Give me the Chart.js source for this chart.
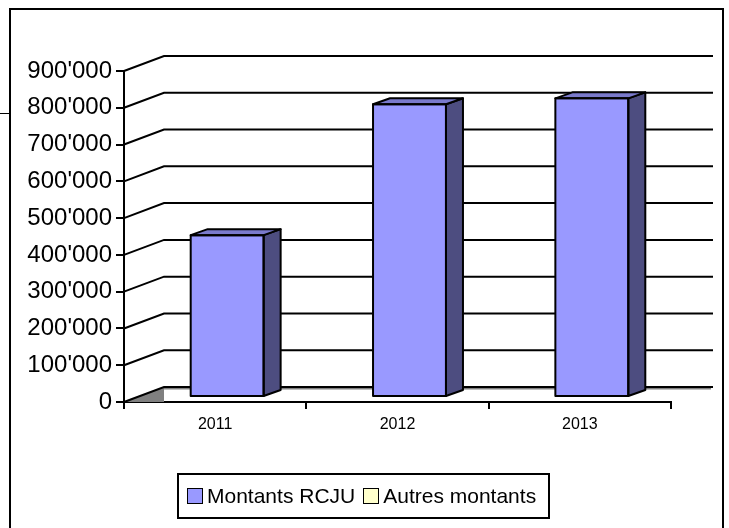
<!DOCTYPE html>
<html>
<head>
<meta charset="utf-8">
<script src="https://cdn.jsdelivr.net/npm/chart.js@4.4.0/dist/chart.umd.min.js"></script>
<style>
  body { margin: 0; background: #fff; font-family: "Liberation Sans", Arial, sans-serif; }
  #wrap { position: absolute; left: 0; top: 0; width: 729px; height: 528px; }
  #frame { position: absolute; left: 9px; top: 8px; width: 711px; height: 540px; border: 2px solid #000; }
  #stub { position: absolute; left: 0; top: 113px; width: 10px; height: 1px; background: #000; }
  #legend { position: absolute; left: 177px; top: 473px; width: 369px; height: 42px; border: 2px solid #000;
            display: flex; align-items: center; font-size: 21px; color: #000; }
  #legend .item { display: flex; align-items: center; margin-left: 8px; }
  #legend .box { width: 14px; height: 14px; border: 1.5px solid #000; margin-right: 4px; }
</style>
</head>
<body>
<div id="frame"></div>
<div id="stub"></div>
<div id="wrap"><canvas id="mycanvas"></canvas></div>
<div id="legend"></div>
<script>
var years = ['2011', '2012', '2013'];
var montantsRCJU = [440000, 796000, 812000];
var autresMontants = [0, 0, 0];
var yTicks = [0, 100000, 200000, 300000, 400000, 500000, 600000, 700000, 800000, 900000];

// depth of the walls and of the bars
var DX = 40, DY = -15;
var OX = 12, OY = -5;
var BX = 17, BY = -6;

function fmt(v) {
  return String(v).replace(/\B(?=(\d{3})+(?!\d))/g, "'");
}

var walls = {
  id: 'walls',
  beforeDatasetsDraw: function(chart) {
    var ctx = chart.ctx, a = chart.chartArea, ys = chart.scales.y;
    ctx.save();
    // floor / left base
    var y0 = ys.getPixelForValue(0);
    ctx.fillStyle = '#808080';
    ctx.beginPath();
    ctx.moveTo(a.left, y0);
    ctx.lineTo(a.left + DX, y0 + DY);
    ctx.lineTo(a.left + DX, y0);
    ctx.closePath();
    ctx.fill();
    ctx.strokeStyle = '#808080';
    ctx.lineWidth = 2;
    ctx.beginPath();
    ctx.moveTo(a.left + DX, y0 + DY + 1.5);
    ctx.lineTo(a.right + DX, y0 + DY + 1.5);
    ctx.stroke();

    ctx.strokeStyle = '#000';
    ctx.lineWidth = 2;
    yTicks.forEach(function(v) {
      var y = ys.getPixelForValue(v);
      ctx.beginPath();
      ctx.moveTo(a.left, y);
      ctx.lineTo(a.left + DX, y + DY);
      ctx.lineTo(a.right + DX + 2, y + DY);
      ctx.stroke();
    });
    ctx.restore();
    // shift the bar fronts into the floor depth
    ctx.save();
    ctx.translate(OX, OY);
  },
  afterDatasetsDraw: function(chart) {
    var ctx = chart.ctx;
    ctx.restore();
    ctx.save();
    ctx.lineWidth = 2;
    ctx.lineJoin = 'round';
    ctx.strokeStyle = '#000';
    chart.data.datasets.forEach(function(ds, di) {
      var meta = chart.getDatasetMeta(di);
      meta.data.forEach(function(el, i) {
        if (!ds.data[i]) return;
        var p = el.getProps(['x', 'y', 'base', 'width'], true);
        var l = p.x - p.width / 2 + OX, r = p.x + p.width / 2 + OX;
        var t = Math.min(p.y, p.base) + OY, b = Math.max(p.y, p.base) + OY;
        // side
        ctx.fillStyle = ds.sideColor;
        ctx.beginPath();
        ctx.moveTo(r, t);
        ctx.lineTo(r + BX, t + BY);
        ctx.lineTo(r + BX, b + BY);
        ctx.lineTo(r, b);
        ctx.closePath();
        ctx.fill();
        ctx.stroke();
        // top
        ctx.fillStyle = ds.topColor;
        ctx.beginPath();
        ctx.moveTo(l, t);
        ctx.lineTo(l + BX, t + BY);
        ctx.lineTo(r + BX, t + BY);
        ctx.lineTo(r, t);
        ctx.closePath();
        ctx.fill();
        ctx.stroke();
        // front outline
        ctx.strokeRect(l, t, r - l, b - t);
      });
    });
    ctx.restore();
  }
};

var ctx = document.getElementById('mycanvas');
var barGraph = new Chart(ctx, {
  type: 'bar',
  data: {
    labels: years,
    datasets: [
      {
        label: 'Montants RCJU',
        data: montantsRCJU,
        backgroundColor: '#9999FF',
        topColor: '#7A7ACC',
        sideColor: '#4D4D80',
        borderWidth: 0
      },
      {
        label: 'Autres montants',
        data: autresMontants,
        backgroundColor: '#FFFFCC',
        topColor: '#CCCCA3',
        sideColor: '#808066',
        borderWidth: 0
      }
    ]
  },
  options: {
    responsive: true,
    maintainAspectRatio: false,
    animation: false,
    layout: { padding: { left: 0, right: 58, top: 71, bottom: 86 } },
    plugins: { legend: { display: false }, tooltip: { enabled: false } },
    datasets: { bar: { categoryPercentage: 1, barPercentage: 0.4 } },
    scales: {
      x: {
        stacked: true,
        grid: { offset: true, drawOnChartArea: false, tickLength: 7, color: '#000', lineWidth: 2 },
        border: { color: '#000', width: 2 },
        ticks: { color: '#000', padding: 6, font: { family: 'Liberation Sans', size: 16 } },
        afterFit: function(s) { s.height = 40; }
      },
      y: {
        stacked: true,
        min: 0,
        max: 900000,
        grid: { drawOnChartArea: false, tickLength: 8, color: '#000', lineWidth: 2 },
        border: { color: '#000', width: 2 },
        ticks: {
          stepSize: 100000,
          color: '#000',
          padding: 4,
          font: { family: 'Liberation Sans', size: 24 },
          callback: function(v) { return fmt(v); }
        },
        afterFit: function(s) { s.width = 124; s.paddingTop = 0; s.paddingBottom = 0; }
      }
    }
  },
  plugins: [walls]
});

var lg = document.getElementById('legend');
barGraph.data.datasets.forEach(function(ds) {
  var it = document.createElement('div');
  it.className = 'item';
  var bx = document.createElement('span');
  bx.className = 'box';
  bx.style.background = ds.backgroundColor;
  var tx = document.createElement('span');
  tx.textContent = ds.label;
  it.appendChild(bx);
  it.appendChild(tx);
  lg.appendChild(it);
});
</script>
</body>
</html>
